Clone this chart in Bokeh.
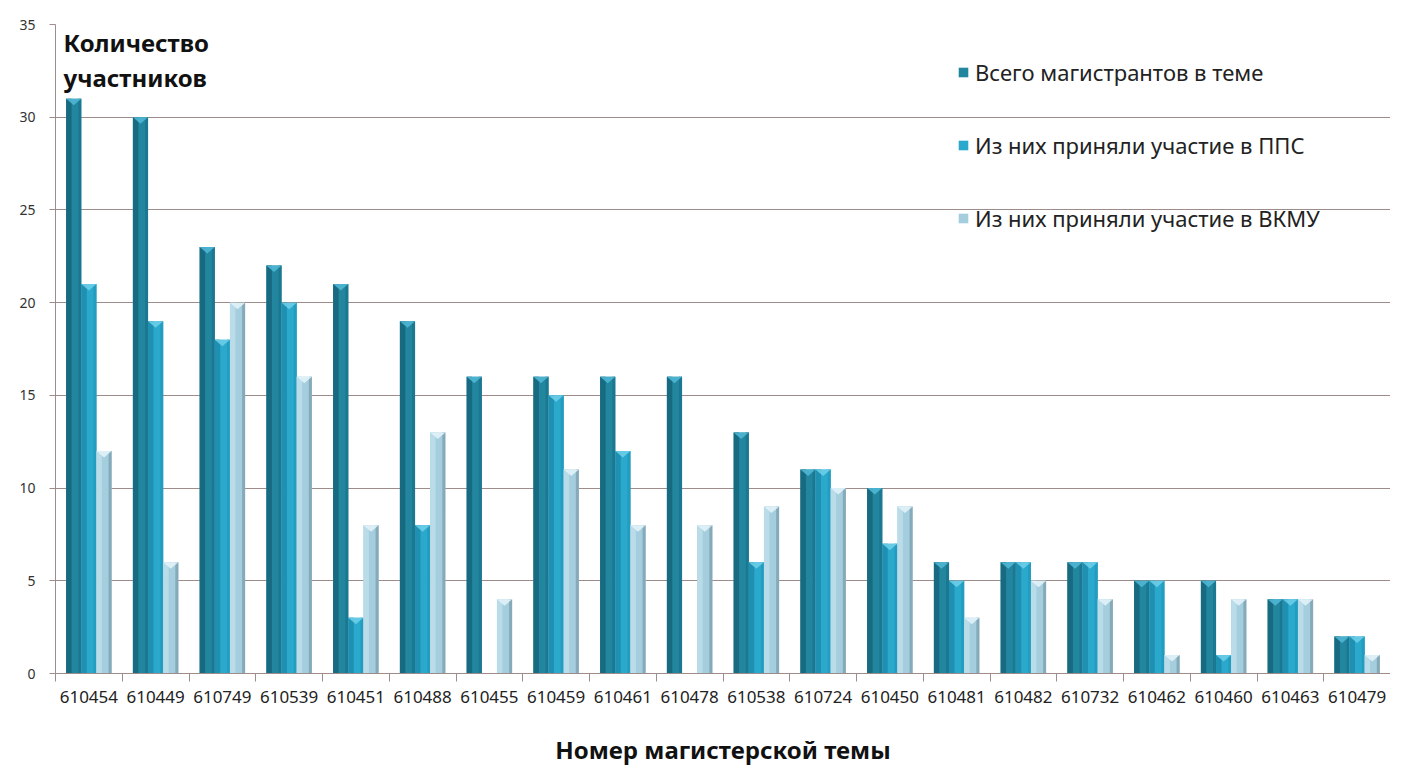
from bokeh.plotting import figure
from bokeh.models import (ColumnDataSource, FixedTicker, Legend, LegendItem, Label,
                          Range1d)
from bokeh.embed import file_html
from bokeh.resources import INLINE

topics = ["610454", "610449", "610749", "610539", "610451", "610488", "610455",
          "610459", "610461", "610478", "610538", "610724", "610450", "610481",
          "610482", "610732", "610462", "610460", "610463", "610479"]
total = [31, 30, 23, 22, 21, 19, 16, 16, 16, 16, 13, 11, 10, 6, 6, 6, 5, 5, 4, 2]
pps = [21, 19, 18, 20, 3, 8, 0, 15, 12, 0, 6, 11, 7, 5, 6, 6, 5, 1, 4, 2]
vkmu = [12, 6, 20, 16, 8, 13, 4, 11, 8, 8, 9, 10, 9, 3, 5, 4, 1, 4, 4, 1]
series_names = ["Всего магистрантов в теме",
                "Из них приняли участие в ППС",
                "Из них приняли участие в ВКМУ"]
y_ticks = [0, 5, 10, 15, 20, 25, 30, 35]
x_title = "Номер магистерской темы"
y_title = ["Количество", "участников"]

FONT = "Noto Sans"
BW = 0.227
offsets = [-BW, 0.0, BW]
# base, left shade, right shade, top
palettes = [("#22869F", "#176A80", "#1C7890", "#4FB6D3"),
            ("#2AA9CD", "#1F90B1", "#239CBF", "#6CCDE8"),
            ("#A4CEDD", "#B9DCE8", "#86AAB9", "#E2F2F8")]

p = figure(width=1390, height=769, output_backend="svg", toolbar_location=None,
           x_range=Range1d(0, 20), y_range=Range1d(0, 35),
           min_border_left=55, min_border_right=0, min_border_top=24,
           min_border_bottom=96)
p.outline_line_color = None
p.background_fill_color = "white"

centers = [i + 0.5 for i in range(len(topics))]
renderers = []
for k, vals in enumerate([total, pps, vkmu]):
    base, lshade, rshade, topc = palettes[k]
    xs = [c + offsets[k] for c in centers]
    src = ColumnDataSource(dict(x=xs, top=vals))
    r = p.vbar(x="x", top="top", width=BW, source=src, fill_color=base,
               line_color=None)
    renderers.append(r)
    src_l = ColumnDataSource(dict(x=[x - BW * 0.32 for x in xs], top=vals))
    p.vbar(x="x", top="top", width=BW * 0.36, source=src_l, fill_color=lshade,
           line_color=None)
    src_r = ColumnDataSource(dict(x=[x + BW * 0.40 for x in xs], top=vals))
    p.vbar(x="x", top="top", width=BW * 0.2, source=src_r, fill_color=rshade,
           line_color=None)
    # triangular cap on each bar top
    tx, ty = [], []
    for x, v in zip(xs, vals):
        if v > 0:
            tx.append([x - BW / 2, x + BW / 2, x])
            ty.append([v, v, v - 0.35])
    p.patches(tx, ty, fill_color=topc, line_color=None, fill_alpha=0.9)

grid_c = "#9E8C8A"
p.xgrid.visible = False
p.ygrid.grid_line_color = grid_c
p.ygrid.grid_line_width = 1.2

p.yaxis.ticker = FixedTicker(ticks=y_ticks)
p.yaxis.axis_line_color = grid_c
p.yaxis.major_tick_line_color = grid_c
p.yaxis.major_tick_out = 6
p.yaxis.major_tick_in = 0
p.yaxis.minor_tick_line_color = None
p.yaxis.major_label_standoff = 14
p.yaxis.major_label_text_font = FONT
p.yaxis.major_label_text_font_size = "14px"
p.yaxis.major_label_text_color = "#333333"

p.xaxis.ticker = FixedTicker(ticks=centers, minor_ticks=list(range(len(topics) + 1)))
p.xaxis.major_label_overrides = {c: t for c, t in zip(centers, topics)}
p.xaxis.axis_line_color = grid_c
p.xaxis.major_tick_line_color = None
p.xaxis.major_tick_out = 8
p.xaxis.minor_tick_line_color = grid_c
p.xaxis.minor_tick_out = 8
p.xaxis.minor_tick_in = 0
p.xaxis.major_label_standoff = 9
p.xaxis.major_label_text_font = FONT
p.xaxis.major_label_text_font_size = "17px"
p.xaxis.major_label_text_color = "#222222"
p.xaxis.axis_label = x_title
p.xaxis.axis_label_text_font = FONT
p.xaxis.axis_label_text_font_style = "bold"
p.xaxis.axis_label_text_font_size = "24px"
p.xaxis.axis_label_text_color = "#111111"
p.xaxis.axis_label_standoff = 27

for i, txt in enumerate(y_title):
    p.add_layout(Label(x=8, y=631 - 35 * i, x_units="screen", y_units="screen",
                       text=txt, text_font=FONT, text_font_style="bold",
                       text_font_size="24px", text_baseline="middle",
                       text_color="#111111"))

legend = Legend(items=[LegendItem(label=n, renderers=[r])
                       for n, r in zip(series_names, renderers)],
                location=(902, 440), orientation="vertical",
                label_text_font=FONT, label_text_font_size="22px",
                label_text_color="#222222", glyph_width=12, glyph_height=12,
                label_height=24, spacing=43, padding=0, margin=0,
                label_standoff=6, background_fill_alpha=0,
                border_line_color=None)
p.add_layout(legend)

open("out.html", "w").write(file_html(p, INLINE))
